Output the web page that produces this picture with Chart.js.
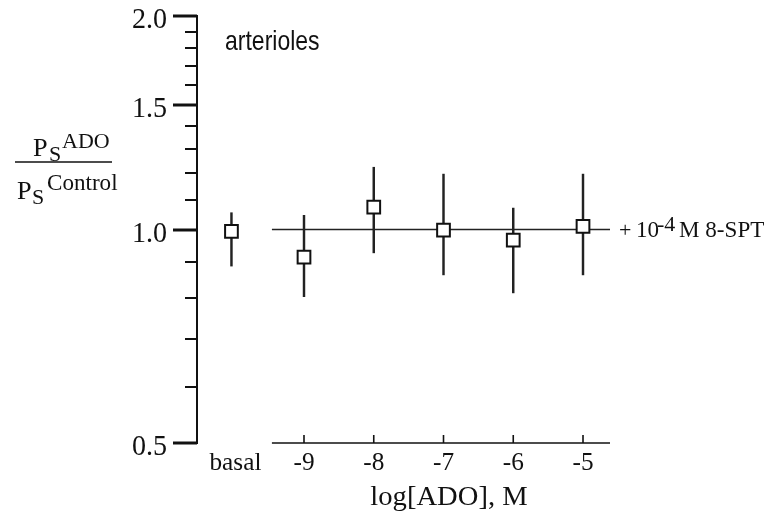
<!DOCTYPE html>
<html>
<head>
<meta charset="utf-8">
<script src="https://cdn.jsdelivr.net/npm/chart.js@4"></script>
<style>
  body { margin: 0; background: #fff; }
  #wrap { width: 768px; height: 521px; position: relative; }
</style>
</head>
<body>
<div id="wrap"><canvas id="mainChart"></canvas></div>
<script>
// data
const concLabels = ['basal', '-9', '-8', '-7', '-6', '-5'];
const concX = [-10.04, -9, -8, -7, -6, -5];
const meanRatio = [0.994, 0.914, 1.075, 0.998, 0.966, 1.010];
const errLow = [0.888, 0.804, 0.927, 0.863, 0.814, 0.863];
const errHigh = [1.056, 1.047, 1.224, 1.197, 1.072, 1.197];

// 8-SPT reference line at 1.0
const refLineX = [-9.46, -4.613];
const refLineY = [1.0, 1.0];

const xTicks = [-9, -8, -7, -6, -5];
const yTicks = [0.5, 0.6, 0.7, 0.8, 0.9, 1.0, 1.1, 1.2, 1.3, 1.4, 1.5, 1.6, 1.7, 1.8, 1.9, 2.0];
const yMajor = [0.5, 1.0, 1.5, 2.0];

const SERIF = '"Liberation Serif", "Times New Roman", serif';

function txt(ctx, s, x, y, size, align, family, sx, sy) {
    ctx.save();
    ctx.font = size + 'px ' + (family || SERIF);
    ctx.textAlign = align || 'left';
    ctx.textBaseline = 'alphabetic';
    ctx.fillStyle = '#111';
    ctx.translate(x, y);
    ctx.scale(sx || 1.1, sy || 1.05);
    ctx.fillText(s, 0, 0);
    ctx.restore();
}

// axes, ticks and all the labels are drawn by hand
const axesPlugin = {
    id: 'axesPlugin',
    afterDraw(chart) {
        const ctx = chart.ctx;
        const xs = chart.scales.x, ys = chart.scales.y;
        const left = chart.chartArea.left;

        ctx.save();
        ctx.strokeStyle = '#111';
        ctx.lineCap = 'butt';

        // y axis
        ctx.lineWidth = 2;
        ctx.beginPath();
        ctx.moveTo(left, ys.getPixelForValue(2.0) - 1);
        ctx.lineTo(left, ys.getPixelForValue(0.5) + 1);
        ctx.stroke();

        yTicks.forEach(v => {
            const py = Math.round(ys.getPixelForValue(v));
            const major = yMajor.some(m => Math.abs(m - v) < 1e-6);
            ctx.lineWidth = major ? 3 : 2;
            ctx.beginPath();
            ctx.moveTo(left - (major ? 24 : 12), py);
            ctx.lineTo(left, py);
            ctx.stroke();
        });
        yMajor.forEach(v => {
            txt(ctx, v.toFixed(1), 167, ys.getPixelForValue(v) + 12, 26, 'right', SERIF, 1.08, 1.15);
        });

        // x axis (only under the ADO doses)
        const y05 = ys.getPixelForValue(0.5);
        ctx.lineWidth = 1.6;
        ctx.beginPath();
        ctx.moveTo(xs.getPixelForValue(refLineX[0]), y05);
        ctx.lineTo(xs.getPixelForValue(refLineX[1]), y05);
        ctx.stroke();
        xTicks.forEach(v => {
            const px = xs.getPixelForValue(v);
            ctx.lineWidth = 1.6;
            ctx.beginPath();
            ctx.moveTo(px, y05);
            ctx.lineTo(px, y05 - 8);
            ctx.stroke();
        });
        concLabels.forEach((lab, i) => {
            txt(ctx, lab, xs.getPixelForValue(concX[i]) + (i === 0 ? 4 : 0), 470, 23, 'center');
        });
        txt(ctx, 'log[ADO], M', 449, 505, 26, 'center');

        // panel label
        txt(ctx, 'arterioles', 225, 50, 23, 'left', '"Liberation Sans", Arial, sans-serif', 1.0, 1.18);

        // y title as a fraction
        ctx.lineWidth = 1.5;
        ctx.beginPath();
        ctx.moveTo(15, 162);
        ctx.lineTo(112, 162);
        ctx.stroke();
        txt(ctx, 'P', 33, 156, 25, 'left', SERIF, 1.05, 1.05);
        txt(ctx, 'S', 49, 161, 20, 'left');
        txt(ctx, 'ADO', 62, 147.5, 20, 'left');
        txt(ctx, 'P', 17, 199, 25, 'left', SERIF, 1.05, 1.05);
        txt(ctx, 'S', 32, 204, 20, 'left');
        txt(ctx, 'Control', 47, 190, 21, 'left');

        // annotation for the reference line
        txt(ctx, '+', 619, 237, 20, 'left');
        txt(ctx, '10', 636, 237, 21, 'left');
        txt(ctx, '-4', 657, 231, 20, 'left');
        txt(ctx, 'M 8-SPT', 679, 237, 21, 'left');

        ctx.restore();
    }
};

const markerData = concX.map((x, i) => ({ x: x, y: meanRatio[i] }));
const errData = concX.map((x, i) => ({ x: x, y: [errLow[i], errHigh[i]] }));
const refData = refLineX.map((x, i) => ({ x: x, y: refLineY[i] }));

const ctx = document.getElementById('mainChart').getContext('2d');
const mainChart = new Chart(ctx, {
    type: 'scatter',
    data: {
        datasets: [
            {
                type: 'scatter',
                data: markerData,
                pointStyle: 'rect',
                pointRadius: 9,
                pointHoverRadius: 9,
                borderWidth: 2,
                borderColor: '#111',
                backgroundColor: '#fff',
                order: 0
            },
            {
                type: 'bar',
                data: errData,
                barThickness: 1.8,
                grouped: false,
                backgroundColor: '#222',
                borderWidth: 0,
                order: 1
            },
            {
                type: 'line',
                data: refData,
                borderColor: '#222',
                borderWidth: 1.3,
                pointRadius: 0,
                fill: false,
                order: 2
            }
        ]
    },
    options: {
        responsive: true,
        maintainAspectRatio: false,
        animation: false,
        layout: { padding: { left: 197, right: 158, top: 16, bottom: 78 } },
        plugins: {
            legend: { display: false },
            tooltip: { enabled: false },
            title: { display: false }
        },
        scales: {
            x: { type: 'linear', min: -10.534, max: -4.613, offset: false, display: false },
            y: { type: 'logarithmic', min: 0.5, max: 2.0, display: false }
        }
    },
    plugins: [axesPlugin]
});
</script>
</body>
</html>
